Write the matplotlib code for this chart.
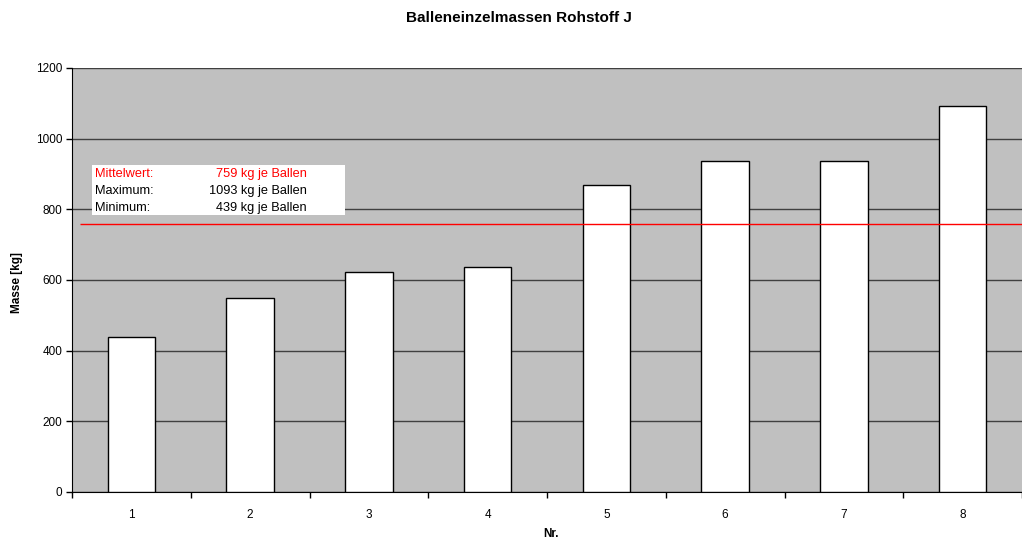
import matplotlib
matplotlib.use("Agg")
import matplotlib.pyplot as plt
from matplotlib.patches import Rectangle

categories = ["1", "2", "3", "4", "5", "6", "7", "8"]
masses = [439, 549, 622, 637, 869, 937, 937, 1093]
mean_value = 759
max_value = 1093
min_value = 439
yticks = [0, 200, 400, 600, 800, 1000, 1200]

plt.rcParams["font.family"] = ["Liberation Sans", "DejaVu Sans"]

W, H = 1022, 546
fig = plt.figure(figsize=(W / 100, H / 100), dpi=100)
ax = fig.add_axes([72 / W, 1 - 492 / H, (W - 72) / W, (492 - 68) / H])
ax.set_facecolor("#c0c0c0")

x = list(range(1, len(categories) + 1))
ax.bar(x, masses, width=0.4, color="white", edgecolor="black", linewidth=1.0, zorder=3)
ax.hlines(mean_value, 0.567, 8.5, color="#ff0000", linewidth=1.0, zorder=4)

ax.set_xlim(0.5, 8.5)
ax.set_ylim(0, 1200)
ax.set_yticks(yticks)
ax.set_xticks(x)
ax.set_xticklabels(categories)
ax.set_xticks([i + 0.5 for i in range(0, 9)], minor=True)
ax.tick_params(axis="x", which="major", length=0, pad=12, labelsize=8.5)
ax.tick_params(axis="x", which="minor", length=4, width=1, color="black", direction="out")
ax.tick_params(axis="y", length=4, width=1, direction="out", labelsize=8.5, pad=3)
ax.yaxis.grid(True, color="#404040", linewidth=1.0, zorder=1)
ax.set_axisbelow(True)
for side in ["top", "right"]:
    ax.spines[side].set_visible(False)
ax.spines["left"].set_color("black")
ax.spines["bottom"].set_color("black")

fig.text(0.508, 1 - 18 / H, "Balleneinzelmassen Rohstoff J", ha="center", va="center",
         fontsize=11, fontweight="bold")
fig.text(17 / W, 1 - 283 / H, "Masse [kg]", rotation=90, ha="center", va="center",
         fontsize=8.5, fontweight="bold")
fig.text(551 / W, 1 - 534 / H, "Nr.", ha="center", va="center", fontsize=8.5, fontweight="bold")

# statistics box
fig.patches.append(Rectangle((92 / W, 1 - 215 / H), (345 - 92) / W, 50 / H,
                             transform=fig.transFigure, facecolor="white",
                             edgecolor="none", zorder=5))
rows = [("Mittelwert:", f"{mean_value} kg je Ballen", "#ff0000"),
        ("Maximum:", f"{max_value} kg je Ballen", "black"),
        ("Minimum:", f"{min_value} kg je Ballen", "black")]
for i, (lab, val, col) in enumerate(rows):
    yy = 1 - (174 + 17 * i) / H
    fig.text(95 / W, yy, lab, ha="left", va="center", fontsize=9.2, color=col, zorder=6)
    fig.text(307 / W, yy, val, ha="right", va="center", fontsize=9.2, color=col, zorder=6)

fig.savefig("out.png", dpi=100)
